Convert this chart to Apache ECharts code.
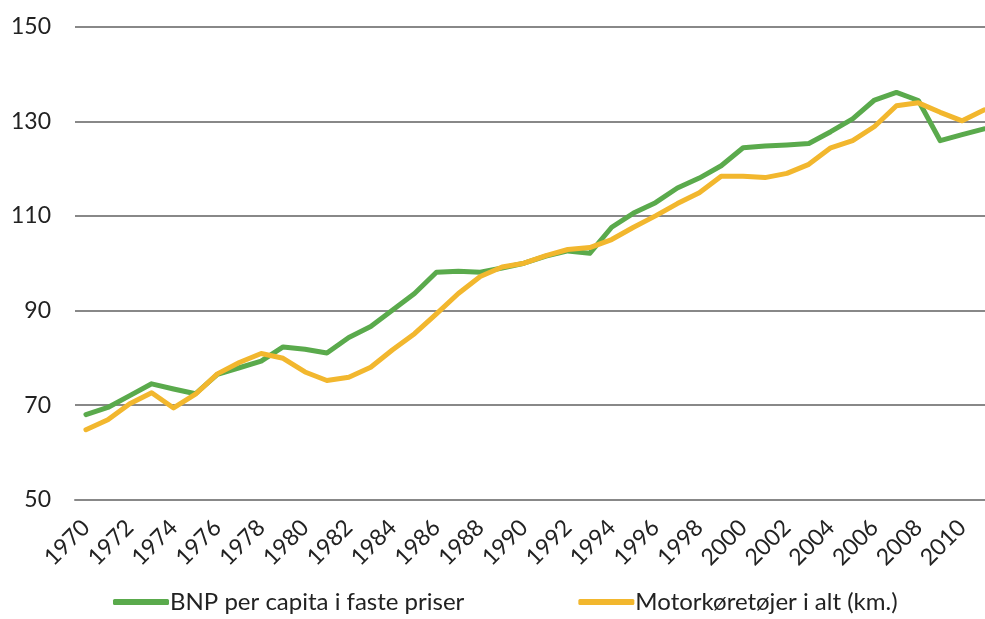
<!DOCTYPE html>
<html>
<head>
<meta charset="utf-8">
<script src="https://cdn.jsdelivr.net/npm/echarts@6/dist/echarts.min.js"></script>
<style>
  html, body { margin: 0; padding: 0; background: #fff; }
  #chart { width: 985px; height: 619px; }
</style>
</head>
<body>
<div id="chart"></div>
<script>
const years = [];
for (let y = 1970; y <= 2011; y++) years.push(String(y));

const seriesNames = ['BNP per capita i faste priser', 'Motorkøretøjer i alt (km.)'];

const bnpValues = [
    68.0, 69.5, 72.0, 74.5, 73.4, 72.4, 76.5, 77.9, 79.3, 82.3,
    81.8, 81.0, 84.3, 86.6, 90.1, 93.6, 98.1, 98.3, 98.1, 99.0,
    100.0, 101.5, 102.6, 102.1, 107.6, 110.6, 112.8, 115.9, 118.0, 120.6,
    124.4, 124.8, 125.0, 125.3, 127.8, 130.5, 134.5, 136.1, 134.4, 125.9,
    127.2, 128.4
];

const motorValues = [
    64.8, 66.9, 70.3, 72.6, 69.4, 72.3, 76.6, 79.0, 80.9, 79.9,
    77.0, 75.2, 75.9, 78.0, 81.7, 85.1, 89.3, 93.6, 97.2, 99.2,
    100.0, 101.6, 102.9, 103.3, 105.0, 107.6, 110.0, 112.6, 114.9, 118.4,
    118.4, 118.1, 119.0, 120.9, 124.4, 125.9, 128.9, 133.3, 133.9, 131.9,
    130.1, 132.4
];

const colors = ['#5aaa4c', '#f2b72e'];
const fontFamily = 'Lato, "Noto Sans", sans-serif';

const chart = echarts.init(document.getElementById('chart'));

chart.setOption({
    animation: false,
    color: colors,
    textStyle: { fontFamily: fontFamily },
    // plot runs past the right edge of the picture, as in the source
    grid: { left: 75, width: 920, top: 26.7, bottom: 119.3, outerBoundsMode: 'none' },
    legend: {
        bottom: 0,
        left: 108,
        itemWidth: 56,
        itemHeight: 6,
        itemGap: 114,
        icon: 'roundRect',
        textStyle: { fontSize: 24, color: '#222', fontFamily: fontFamily, padding: [0, 0, 0, -4] },
        data: seriesNames
    },
    xAxis: {
        type: 'category',
        data: years,
        boundaryGap: true,
        axisLine: { show: true, lineStyle: { color: '#888', width: 2 } },
        axisTick: { show: false },
        axisLabel: {
            interval: 1,
            rotate: 45,
            fontSize: 23,
            color: '#222',
            margin: 24
        }
    },
    yAxis: {
        type: 'value',
        min: 50,
        max: 150,
        interval: 20,
        axisLine: { show: false },
        axisTick: { show: false },
        axisLabel: { fontSize: 23, color: '#222', margin: 24 },
        splitLine: { lineStyle: { color: '#888', width: 2 } }
    },
    series: [
        {
            name: seriesNames[0],
            type: 'line',
            data: bnpValues,
            symbol: 'none',
            lineStyle: { width: 5, color: colors[0], cap: 'round', join: 'round' }
        },
        {
            name: seriesNames[1],
            type: 'line',
            data: motorValues,
            symbol: 'none',
            lineStyle: { width: 5, color: colors[1], cap: 'round', join: 'round' }
        }
    ]
});
</script>
</body>
</html>
